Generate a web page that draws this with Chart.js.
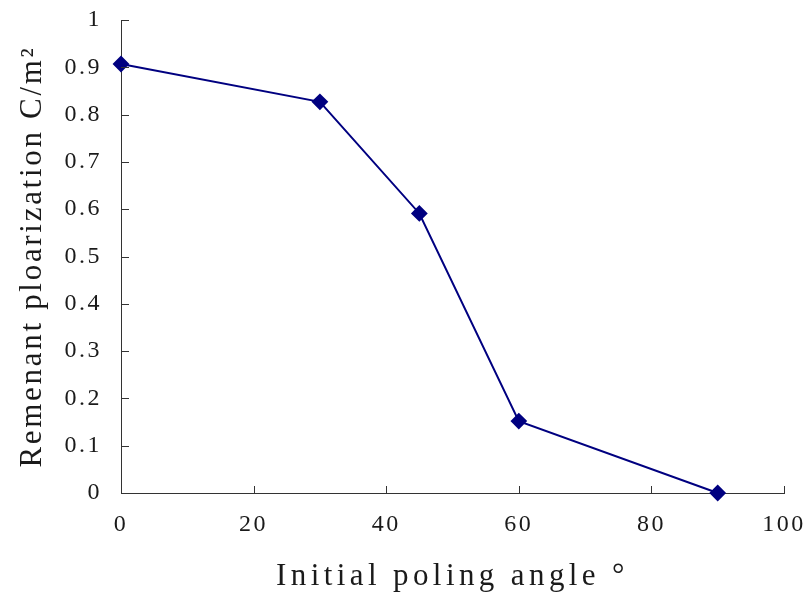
<!DOCTYPE html>
<html>
<head>
<meta charset="utf-8">
<script src="https://cdn.jsdelivr.net/npm/chart.js@4.4.1/dist/chart.umd.min.js"></script>
<style>
  html, body { margin: 0; padding: 0; background: #fff; }
  #wrap { width: 809px; height: 595px; }
</style>
</head>
<body>
<div id="wrap"><canvas id="polchart"></canvas></div>
<script>
// poling angle (deg) vs remanent polarization (C/m^2)
var angles = [0, 30, 45, 60, 90];
var polarization = [0.907, 0.827, 0.591, 0.152, 0];

var xTicks = [0, 20, 40, 60, 80, 100];
var yTicks = [0, 0.1, 0.2, 0.3, 0.4, 0.5, 0.6, 0.7, 0.8, 0.9, 1];

var textColor = '#1a1a1a';
var fontFamily = '"Liberation Serif", "DejaVu Serif", serif';

var points = angles.map(function (a, i) { return { x: a, y: polarization[i] }; });

// wide glyph spacing like the old office fonts; titles get their own spacing
var titleSpacing = { x: '4.4px', y: '2.7px' };
var spacing = {
  id: 'spacing',
  beforeLayout: function (chart) { chart.ctx.letterSpacing = '2.5px'; },
  beforeDraw: function (chart) {
    chart.ctx.letterSpacing = '2.5px';
    Object.keys(titleSpacing).forEach(function (id) {
      var sc = chart.scales[id];
      if (sc._spaced) return;
      var orig = sc.drawTitle;
      sc.drawTitle = function () {
        var ctx = this.ctx, prev = ctx.letterSpacing;
        ctx.letterSpacing = titleSpacing[id];
        orig.apply(this, arguments);
        ctx.letterSpacing = prev;
      };
      sc._spaced = true;
    });
  }
};

// short tick marks pointing into the plot
var innerTicks = {
  id: 'innerTicks',
  afterDatasetsDraw: function (chart) {
    var ctx = chart.ctx, xs = chart.scales.x, ys = chart.scales.y;
    var area = chart.chartArea;
    ctx.save();
    ctx.strokeStyle = '#333';
    ctx.lineWidth = 1;
    ctx.beginPath();
    xTicks.forEach(function (v) {
      var px = Math.round(xs.getPixelForValue(v)) + 0.5;
      ctx.moveTo(px, area.bottom);
      ctx.lineTo(px, area.bottom - 7);
    });
    yTicks.forEach(function (v) {
      var py = Math.round(ys.getPixelForValue(v)) + 0.5;
      ctx.moveTo(area.left, py);
      ctx.lineTo(area.left + 8, py);
    });
    ctx.stroke();
    ctx.restore();
  }
};

new Chart(document.getElementById('polchart').getContext('2d'), {
  type: 'line',
  data: {
    datasets: [{
      data: points,
      borderColor: '#000080',
      backgroundColor: '#000080',
      borderWidth: 2,
      pointStyle: 'rectRot',
      pointRadius: 7,
      pointHoverRadius: 7,
      tension: 0,
      fill: false,
      clip: false
    }]
  },
  options: {
    responsive: true,
    maintainAspectRatio: false,
    animation: false,
    layout: { padding: { left: 0, right: 25, top: 20, bottom: 0 } },
    plugins: { legend: { display: false }, tooltip: { enabled: false } },
    scales: {
      x: {
        type: 'linear',
        min: 0, max: 100,
        afterBuildTicks: function (s) { s.ticks = xTicks.map(function (v) { return { value: v }; }); },
        afterFit: function (s) { s.height = 102; s.paddingLeft = 0; s.paddingRight = 0; },
        grid: { display: false, drawTicks: false },
        border: { display: true, color: '#333', width: 1 },
        ticks: { color: textColor, padding: 17, font: { family: fontFamily, size: 24 } },
        title: {
          display: true,
          text: 'Initial poling angle °',
          color: textColor,
          padding: { top: 8, bottom: 0 },
          font: { family: fontFamily, size: 31 }
        }
      },
      y: {
        min: 0, max: 1,
        afterBuildTicks: function (s) { s.ticks = yTicks.map(function (v) { return { value: v }; }); },
        afterFit: function (s) { s.width = 121; s.paddingTop = 0; s.paddingBottom = 0; },
        grid: { display: false, drawTicks: false },
        border: { display: true, color: '#333', width: 1 },
        ticks: {
          color: textColor,
          padding: 19,
          font: { family: fontFamily, size: 24 },
          callback: function (v) { return String(Number(v.toFixed(1))); }
        },
        title: {
          display: true,
          text: 'Remenant ploarization C/m²',
          color: textColor,
          padding: { top: 14, bottom: 0 },
          font: { family: fontFamily, size: 31 }
        }
      }
    }
  },
  plugins: [spacing, innerTicks]
});
</script>
</body>
</html>
